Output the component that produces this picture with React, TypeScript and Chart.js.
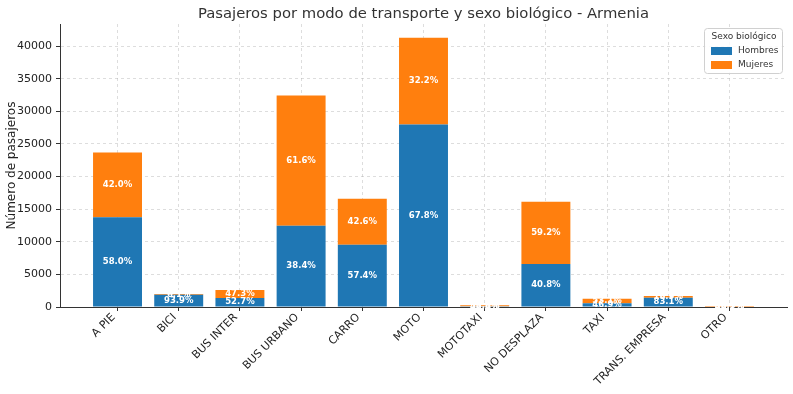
import React, { useEffect, useRef } from "react";
import { Chart, registerables } from "chart.js";

Chart.register(...registerables);

const categories = ["A PIE", "BICI", "BUS INTER", "BUS URBANO", "CARRO", "MOTO", "MOTOTAXI", "NO DESPLAZA", "TAXI", "TRANS. EMPRESA", "OTRO"];
const hombres = [13746, 1878, 1370, 12461, 9528, 28001, 130, 6589, 586, 1413, 70];
const mujeres = [9954, 122, 1230, 19989, 7072, 13299, 150, 9561, 664, 287, 80];
const yTicks = [0, 5000, 10000, 15000, 20000, 25000, 30000, 35000, 40000];

const TITLE = "Pasajeros por modo de transporte y sexo biológico - Armenia";
const BLUE = "#1f77b4";
const ORANGE = "#ff7f0e";
const FONT = "'DejaVu Sans', sans-serif";

const overlayPlugin = {
  id: "overlay",
  afterDatasetsDraw(chart: any) {
    const ctx = chart.ctx;
    ctx.save();
    ctx.fillStyle = "#fff";
    ctx.font = `bold 8.5px ${FONT}`;
    ctx.textAlign = "center";
    ctx.textBaseline = "middle";
    chart.data.datasets.forEach((ds: any, di: number) => {
      const meta = chart.getDatasetMeta(di);
      meta.data.forEach((bar: any, i: number) => {
        const total = hombres[i] + mujeres[i];
        const v = ds.data[i].y;
        const pct = ((v / total) * 100).toFixed(1) + "%";
        const yc = (bar.y + bar.base) / 2;
        ctx.fillText(pct, bar.x, yc);
      });
    });
    ctx.restore();
  },
  afterDraw(chart: any) {
    const ctx = chart.ctx;
    const area = chart.chartArea;
    ctx.save();
    // title
    ctx.fillStyle = "#333";
    ctx.font = `14.8px ${FONT}`;
    ctx.textAlign = "center";
    ctx.textBaseline = "middle";
    ctx.fillText(TITLE, (area.left + area.right) / 2, 14);
    // legend
    const lx = 704, ly = 28, lw = 78, lh = 45;
    ctx.fillStyle = "rgba(255,255,255,0.85)";
    ctx.strokeStyle = "#d0d0d0";
    ctx.lineWidth = 1;
    ctx.beginPath();
    (ctx as any).roundRect(lx + 0.5, ly + 0.5, lw, lh, 3);
    ctx.fill();
    ctx.stroke();
    ctx.fillStyle = "#333";
    ctx.font = `9px ${FONT}`;
    ctx.textAlign = "center";
    ctx.fillText("Sexo biológico", lx + lw / 2 + 1, ly + 9);
    ctx.textAlign = "left";
    const items = [["Hombres", BLUE], ["Mujeres", ORANGE]];
    items.forEach(([label, color], k) => {
      const yy = ly + 23 + k * 14;
      ctx.fillStyle = color;
      ctx.fillRect(lx + 7, yy - 4, 21, 8);
      ctx.fillStyle = "#333";
      ctx.fillText(label, lx + 34, yy);
    });
    ctx.restore();
  },
};

export default function App() {
  const ref = useRef<HTMLCanvasElement>(null);
  useEffect(() => {
    const gridColor = "rgba(170,170,170,0.4)";
    const chart = new Chart(ref.current!, {
      type: "bar",
      data: {
        datasets: [
          {
            label: "Hombres",
            data: hombres.map((v, i) => ({ x: i, y: v })),
            backgroundColor: BLUE,
            barPercentage: 0.8,
            categoryPercentage: 1,
          },
          {
            label: "Mujeres",
            data: mujeres.map((v, i) => ({ x: i, y: v })),
            backgroundColor: ORANGE,
            barPercentage: 0.8,
            categoryPercentage: 1,
          },
        ],
      },
      options: {
        animation: false,
        responsive: false,
        maintainAspectRatio: false,
        layout: { padding: { left: 0, top: 24, right: 6, bottom: 0 } },
        plugins: { legend: { display: false }, title: { display: false }, tooltip: { enabled: false } },
        scales: {
          x: {
            type: "linear",
            stacked: true,
            offset: false,
            min: -0.94,
            max: 10.94,
            afterBuildTicks: (scale: any) => {
              scale.ticks = categories.map((_, i) => ({ value: i }));
            },
            afterFit: (scale: any) => {
              scale.height = 87;
            },
            ticks: {
              autoSkip: false,
              minRotation: 45,
              maxRotation: 45,
              padding: 0,
              labelOffset: -4,
              color: "#222",
              font: { family: FONT, size: 11 },
              callback: (v: any) => categories[Math.round(v)] ?? "",
            },
            grid: {
              offset: false,
              color: gridColor,
              tickColor: "#333",
              tickLength: 4,
              tickBorderDash: [],
            },
            border: { display: true, color: "#333", width: 1, dash: [3, 3] },
          },
          y: {
            type: "linear",
            stacked: true,
            min: 0,
            max: 43400,
            afterBuildTicks: (scale: any) => {
              scale.ticks = yTicks.map((v) => ({ value: v }));
            },
            afterFit: (scale: any) => {
              scale.width = 60;
            },
            ticks: {
              color: "#222",
              font: { family: FONT, size: 11 },
              padding: 4,
              callback: (v: any) => String(v),
            },
            title: {
              display: true,
              text: "Número de pasajeros",
              color: "#222",
              font: { family: FONT, size: 12 },
              padding: { top: 5, bottom: 0 },
            },
            grid: {
              color: gridColor,
              tickColor: "#333",
              tickLength: 4,
              tickBorderDash: [],
            },
            border: { display: true, color: "#333", width: 1, dash: [3, 3] },
          },
        },
      },
      plugins: [overlayPlugin],
    } as any);
    return () => chart.destroy();
  }, []);
  return (
    <div style={{ position: "absolute", left: 0, top: 0, width: 793, height: 394, background: "#fff" }}>
      <canvas ref={ref} width={793} height={394} style={{ display: "block" }} />
    </div>
  );
}
